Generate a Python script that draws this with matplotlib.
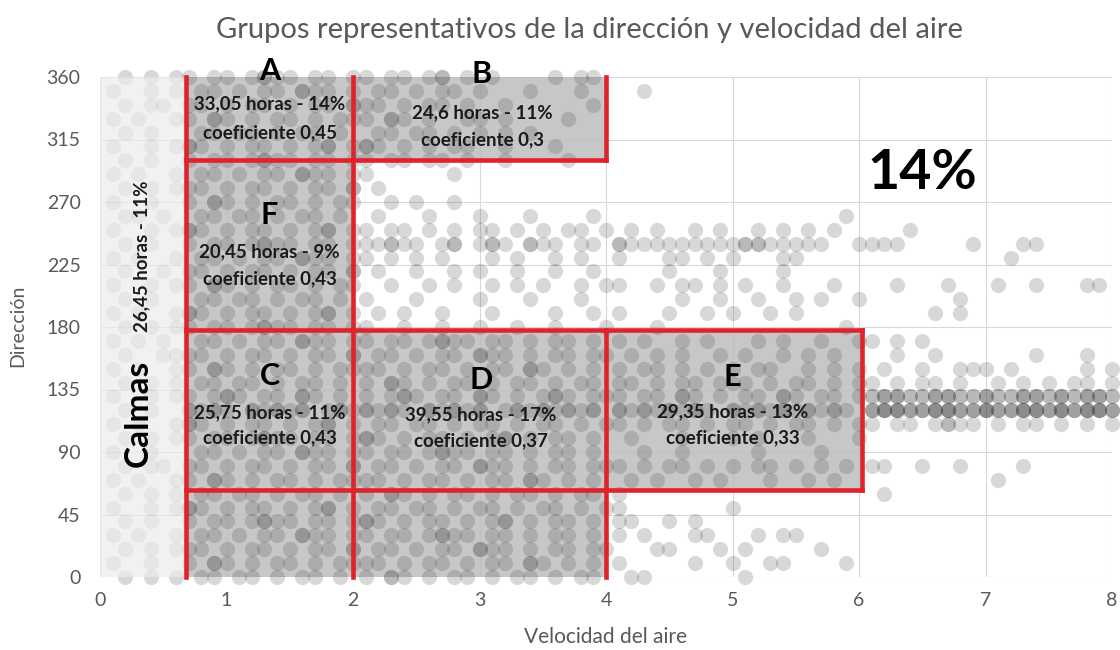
import matplotlib.pyplot as plt
from matplotlib.patches import Rectangle

plt.rcParams['font.family'] = ['Lato', 'DejaVu Sans']

## bins of the density map: wind speed (m/s) and direction (deg)
speeds = [round(0.1 * k, 1) for k in range(1, 81)]
directions = list(range(360, -1, -10))

## hourly records per (direction, speed) cell, '.' = none
## groups: 0.1-0.6 | 0.7-2.0 | 2.1-4.0 | 4.1-6.0 | 6.1-8.0
group_widths = [6, 14, 20, 20, 20]
counts_map = [
    ".1.1.1 1.11.1211.11.1 1.11.12.1.1....1.11.",                                        # 360
    "1..1.1 .11.1.11.211.1 .11.1.11.1...1...1.. ..1",                                    # 350
    ".1.11. 11.1.11.1.11.2 11.1.11.1..1......1.",                                        # 340
    "1.1..1 1.21.1.11.1.11 1.21.1..11.1....1...",                                        # 330
    ".1.1.. .11.11.1.11.1. .11.11.1.1.1.1......",                                        # 320
    "1..1.1 21.1.11.1.12.1 21.1.1.11..1...1....",                                        # 310
    ".1.1.. 1.11.1211.11.1 1.11.11.1..1....1...",                                        # 300
    "1.1..1 .11.1.11.211.1 1......1............",                                        # 290
    ".1.1.1 11.1.11.1.11.2 .1..................",                                        # 280
    "1..1.. 1.21.1.11.1.11 ..1.1..1............",                                        # 270
    ".11.1. .11.11.1.11.1. .1...1...1...1....1. ..................1.",                   # 260
    "1..1.1 21.1.11.1.12.1 1.11.1.1.11.1.1.11.1 .1.1..1.1..1.1.1.1.. ...1",              # 250
    ".1.1.. 1.11.1211.11.1 11211.12.121.211.11. 21111111112211111..1 111.....1...11",    # 240
    "1.1..1 .11.1.11.211.1 1.1.1.1...1.1..1.1.. 1...11.1.1...11..... ...........1",      # 230
    ".1..1. 11.1.11.1.11.2 .1..1..1.1..1..1..1. ....1...1....1......",                   # 220
    "1..1.1 1.21.1.11.1.11 ..1..1.1..1.1.1..1.1 1..1.11.1.1..1...1.. ..1...1...1..1...11",  # 210
    ".1.1.. .11.11.1.11.1. 1...1....1...1...1.. .....1..1..1..1.1..1 .......1",          # 200
    "1.1..1 21.1.11.1.12.1 .1.1..1...1....1..1. 1...1..1.1..1.1..... .....1.1",          # 190
    ".1.1.1 1.11.1211.11.1 1..1..1..1..1..1...1 ...1..............1.",                   # 180
    "1.1.1. .11.1.11.211.1 1.11.1211.11.1.11.1. 1.1..1.1...1.1..1..1 1.1.1",             # 170
    ".1..11 11.1.11.1.11.2 .11.1.11.211.1.11.11 .1.1.1..1.1..1.1.1.. ..1..1.......1...1",  # 160
    "1.1..1 1.21.1.11.1.11 11.1.11.1.11.21.1.1. 1.11.1.1.1.11..1.1.1 .1..1..111.1.....1.1",  # 150
    ".1.1.1 .11.11.1.11.1. 1.21.1.11.1.11.1.11. 11.1.11.111.1.11.1.1 1.1.11.1..1.1.1.11.1",  # 140
    "1..1.1 1.121.11.21.1. 1.121.11.21.1.121.11 1.11.21.1.11.21.11.1 23322332232233232332",  # 130
    ".1.1.. 2121.21212.121 2121.21212.12121212. 21212121.2121212121. 34433443343344343443",  # 120
    "1.1..1 21.1.11.1.12.1 .11.11.1.11.1.11.1.1 1.1.11.1.11.1.11.1.1 1.11.1211.1.11.1.1.1",  # 110
    ".1.1.1 1.11.1211.11.1 21.1.11.1.12.1.11.1. .1...1...1.1...1...1",                   # 100
    "1..1.. .11.1.11.211.1 1.11.1211.11.1.11.1. ..1..1.....1....1...",                   # 90
    ".1.11. 11.1.11.1.11.2 .11.1.11.211.1.11.11 1.1.11.1.1.11.1.1.1. 11..1..1....1",     # 80
    "1.1..1 1.21.1.11.1.11 11.1.11.1.11.21.1.1. .1.1..1.1...1..1.1.. ..........1",       # 70
    ".1.1.1 .11.11.1.11.1. 1.21.1.11.1.11.1.11. 1................... .1",                # 60
    "1..1.1 21.1.11.1.12.1 .11.11.1.11.1.11.1.1 1........1",                             # 50
    ".1.1.. 1.11.1211.11.1 21.1.11.1.12.1.11.1. 11..1.1.............",                   # 40
    "1.1..1 .11.1.11.211.1 1.11.1211.11.1.11.1. 1.1...11...1.11.....",                   # 30
    ".1.1.1 11.1.11.1.11.2 .11.1.11.211.1.11.11 ...11...1.1.....1...",                   # 20
    "1..1.. 1.21.1.11.1.11 11.1.11.1.11.21.1.1. 1.....1..1..11....1.",                   # 10
    ".1.1.1 .11.11.1.11.1. 1.21.1.11.1.11.1.11. .11.......1.........",                   # 0
]

zone_letters = ['A', 'B', 'F', 'C', 'D', 'E']
zone_hours = ['33,05 horas - 14%', '24,6 horas - 11%', '20,45 horas - 9%',
              '25,75 horas - 11%', '39,55 horas - 17%', '29,35 horas - 13%']
zone_coef = ['coeficiente 0,45', 'coeficiente 0,3', 'coeficiente 0,43',
             'coeficiente 0,43', 'coeficiente 0,37', 'coeficiente 0,33']


def parse_row(row):
    parts = row.split(' ')
    parts += [''] * (len(group_widths) - len(parts))
    return ''.join(p.ljust(w, '.')[:w] for p, w in zip(parts, group_widths))


xs = []
ys = []
for d, row in zip(directions, counts_map):
    for v, c in zip(speeds, parse_row(row)):
        if c != '.':
            xs += [v] * int(c)
            ys += [d] * int(c)

fig = plt.figure(figsize=(11.2, 6.5), dpi=100)
ax = fig.add_axes([100 / 1120, 1 - 577 / 650, 1012 / 1120, 500 / 650])

## grey zones (under the points)
grey_zones = [(0.68, 2, 300, 360), (2, 4, 300, 360), (0.68, 2, 178, 300),
              (0.68, 2, 63, 178), (2, 4, 63, 178), (4, 6.02, 63, 178),
              (0.68, 2, 0, 63), (2, 4, 0, 63)]
for x0, x1, y0, y1 in grey_zones:
    ax.add_patch(Rectangle((x0, y0), x1 - x0, y1 - y0, facecolor='#bdbdbd',
                           alpha=0.85, edgecolor='none', zorder=1))

ax.scatter(xs, ys, s=120, c='#404040', alpha=0.2, linewidths=0,
           clip_on=False, zorder=3)

## calm zone veil (over the points)
ax.add_patch(Rectangle((0, 0), 0.68, 360, facecolor='#ececec', alpha=0.7,
                       edgecolor='none', zorder=4, clip_on=False))

## red borders
red = '#e0222a'
segments = [
    ([0.68, 0.68], [0, 360]), ([2, 2], [0, 360]),
    ([4, 4], [300, 360]), ([4, 4], [0, 178]), ([6.02, 6.02], [63, 178]),
    ([0.68, 4], [300, 300]), ([0.68, 6.02], [178, 178]), ([0.68, 6.02], [63, 63]),
]
for sx, sy in segments:
    ax.plot(sx, sy, color=red, lw=3.3, zorder=5, solid_capstyle='projecting',
            clip_on=False)

## zone texts
letter_pos = [(1.34, 364), (3.02, 362), (1.34, 261), (1.34, 145), (3.01, 142), (5.0, 144)]
hours_y = [341, 334, 234, 118, 117, 119]
coef_y = [320, 315, 215, 100, 98, 100]
for i in range(len(zone_letters)):
    lx, ly = letter_pos[i]
    ax.text(lx, ly, zone_letters[i], ha='center', va='center', fontsize=22,
            fontweight='bold', color='black', zorder=6)
    ax.text(lx, hours_y[i], zone_hours[i], ha='center', va='center',
            fontsize=13.5, fontweight='bold', color='#1a1a1a', zorder=6)
    ax.text(lx, coef_y[i], zone_coef[i], ha='center', va='center',
            fontsize=13.5, fontweight='bold', color='#1a1a1a', zorder=6)

ax.text(0.30, 118, 'Calmas', rotation=90, ha='center', va='center',
        fontsize=24, fontweight='bold', color='black', zorder=6)
ax.text(0.33, 231, '26,45 horas - 11%', rotation=90, ha='center', va='center',
        fontsize=13.5, fontweight='bold', color='#1a1a1a', zorder=6)
ax.text(6.5, 291, '14%', ha='center', va='center', fontsize=40,
        fontweight='bold', color='black', zorder=6)

## axes
ax.set_xlim(0, 8)
ax.set_ylim(0, 360)
ax.set_xticks(range(0, 9))
ax.set_yticks(range(0, 361, 45))
ax.grid(True, color='#d9d9d9', lw=0.8)
ax.set_axisbelow(True)
for sp in ax.spines.values():
    sp.set_visible(False)
ax.tick_params(axis='both', length=0, labelsize=14, labelcolor='#595959')
ax.tick_params(axis='x', pad=11)
ax.tick_params(axis='y', pad=14)

fig.text(590 / 1120, 1 - 30 / 650, 'Grupos representativos de la dirección y velocidad del aire',
         ha='center', va='center', fontsize=21, color='#595959')
fig.text(606 / 1120, 1 - 637 / 650, 'Velocidad del aire', ha='center', va='center',
         fontsize=15, color='#595959')
fig.text(18 / 1120, 1 - 326 / 650, 'Dirección', ha='center', va='center',
         rotation=90, fontsize=14, color='#595959')

fig.savefig('out.png', dpi=100)
